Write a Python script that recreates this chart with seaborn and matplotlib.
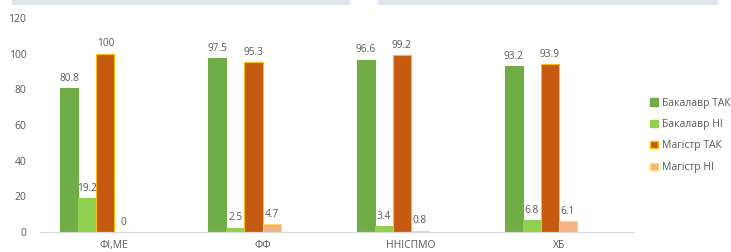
import pandas as pd
import seaborn as sns
import matplotlib.pyplot as plt
from matplotlib.patches import Rectangle, Patch

sns.set_style("white")
plt.rcParams['font.family'] = ['Open Sans', 'DejaVu Sans']

faculties = ["ФІ,МЕ", "ФФ", "ННІСПМО", "ХБ"]
series = ["Бакалавр ТАК", "Бакалавр НІ", "Магістр ТАК", "Магістр НІ"]
bach_yes = [80.8, 97.5, 96.6, 93.2]
bach_no = [19.2, 2.5, 3.4, 6.8]
mast_yes = [100, 95.3, 99.2, 93.9]
mast_no = [0, 4.7, 0.8, 6.1]

fills = ["#70AD47", "#92D050", "#C55A11", "#F4B183"]
edges = ["#70AD47", "#92D050", "#FFC000", "#FFD966"]
txt = "#595959"

rows = []
for name, vals in zip(series, [bach_yes, bach_no, mast_yes, mast_no]):
    for f, v in zip(faculties, vals):
        rows.append({"faculty": f, "series": name, "value": v})
df = pd.DataFrame(rows)

fig = plt.figure(figsize=(7.31, 2.52), dpi=100)
ax = fig.add_axes([0.055, 0.079, 0.811, 0.85])

# two empty slots keep the Excel-like offset of the bar groups
hue_order = series + [" ", "  "]
sns.barplot(data=df, x="faculty", y="value", hue="series", order=faculties,
            hue_order=hue_order, palette=fills + ["white", "white"], width=0.73,
            gap=0, ax=ax, legend=False, saturation=1)

for i, cont in enumerate(ax.containers):
    if i >= 4:
        continue
    for bar in cont:
        bar.set_edgecolor(edges[i])
        bar.set_linewidth(0.8)
    ax.bar_label(cont, labels=[f"{v:g}" for v in cont.datavalues],
                 padding=3, fontsize=7.3, color=txt)

ax.set_ylim(0, 120)
ax.set_xlim(-0.5, 3.5)
ax.set_yticks(range(0, 121, 20))
ax.set_xlabel("")
ax.set_ylabel("")
ax.tick_params(axis="both", labelsize=7.5, colors=txt, length=0)
ax.tick_params(axis="y", pad=10)
ax.tick_params(axis="x", pad=6)
for s in ["top", "right", "left"]:
    ax.spines[s].set_visible(False)
ax.spines["bottom"].set_color("#D9D9D9")

handles = [Patch(facecolor=fills[i], edgecolor=edges[i], label=series[i]) for i in range(4)]
fig.legend(handles=handles, loc="upper left", bbox_to_anchor=(0.877, 0.65),
           frameon=False, fontsize=7.5, labelcolor=txt, handlelength=0.7,
           handleheight=0.7, handletextpad=0.4, labelspacing=1.0)

# strip of the table header cut at the top of the screenshot
for x0, x1 in [(12, 350), (378, 718)]:
    fig.add_artist(Rectangle((x0 / 731, 1 - 5 / 252), (x1 - x0) / 731, 5 / 252,
                             transform=fig.transFigure, color="#DEE5EE", lw=0))

plt.savefig("out.png", dpi=100)
